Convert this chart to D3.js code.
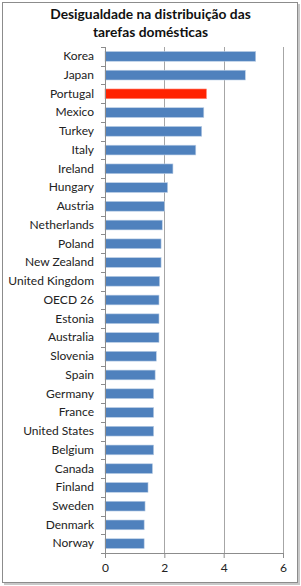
<!DOCTYPE html>
<html>
<head>
<meta charset="utf-8">
<script src="https://cdn.jsdelivr.net/npm/d3@7"></script>
<style>
  body { margin: 0; background: #fff; }
  text { font-family: Lato, "Open Sans", sans-serif; fill: #222; }
</style>
</head>
<body>
<div id="chart"></div>
<script>
// dados
var paises = ["Korea", "Japan", "Portugal", "Mexico", "Turkey", "Italy", "Ireland", "Hungary",
  "Austria", "Netherlands", "Poland", "New Zealand", "United Kingdom", "OECD 26", "Estonia",
  "Australia", "Slovenia", "Spain", "Germany", "France", "United States", "Belgium", "Canada",
  "Finland", "Sweden", "Denmark", "Norway"];
var valores = [5.08, 4.73, 3.42, 3.33, 3.26, 3.06, 2.29, 2.11, 2.0, 1.93, 1.89, 1.89, 1.84, 1.82,
  1.82, 1.82, 1.73, 1.69, 1.64, 1.64, 1.64, 1.64, 1.6, 1.45, 1.35, 1.32, 1.32];
var destaque = ["Portugal"];
var ticksX = [0, 2, 4, 6];
var titulo = ["Desigualdade na distribuição das", "tarefas domésticas"];

var W = 301, H = 586;
var margin = { left: 105, right: 18, top: 47, bottom: 33 };
var width = W - margin.left - margin.right,
    height = H - margin.top - margin.bottom;

var svg = d3.select("#chart").append("svg")
    .attr("width", W)
    .attr("height", H);

// moldura com sombra
svg.append("rect")
    .attr("x", 4).attr("y", 4).attr("width", W - 5).attr("height", H - 5)
    .attr("fill", "#c8c8c8");
svg.append("rect")
    .attr("x", 2.5).attr("y", 2.5).attr("width", W - 6).attr("height", H - 6)
    .attr("fill", "#fff").attr("stroke", "#8c8c8c").attr("stroke-width", 1);

svg.selectAll(".titulo").data(titulo).enter()
    .append("text")
    .attr("class", "titulo")
    .attr("x", W / 2)
    .attr("y", (d, i) => 19 + i * 18)
    .attr("text-anchor", "middle")
    .attr("font-size", "13.8px")
    .attr("font-weight", "bold")
    .style("fill", "#111")
    .text(d => d);

var dados = paises.map((p, i) => ({ pais: p, valor: valores[i] }));

var g = svg.append("g")
    .attr("transform", "translate(" + margin.left + "," + margin.top + ")");

var x = d3.scaleLinear().domain([0, 6]).range([0, width]);
var y = d3.scaleBand().domain(paises).range([0, height]).paddingInner(0.48).paddingOuter(0.24);

// grelha
g.selectAll(".grid").data(ticksX.slice(1)).enter()
    .append("line")
    .attr("x1", d => Math.round(x(d)) + 0.5).attr("x2", d => Math.round(x(d)) + 0.5)
    .attr("y1", 0).attr("y2", height)
    .attr("stroke", "#a6a6a6");

// barras
g.selectAll("rect.bar").data(dados).enter()
    .append("rect")
    .attr("class", "bar")
    .attr("x", x(0))
    .attr("y", d => y(d.pais))
    .attr("width", d => x(d.valor))
    .attr("height", y.bandwidth())
    .attr("fill", d => destaque.includes(d.pais) ? "#ff2200" : "#4f81bd")
    .attr("stroke", d => destaque.includes(d.pais) ? "#ff8a7a" : "#b9cde5")
    .attr("stroke-width", 0.6);

// eixo Y
var yAxis = d3.axisLeft(y).tickSize(0).tickPadding(11);
var gy = g.append("g").call(yAxis);
gy.select(".domain").remove();
gy.selectAll("text").attr("font-size", "12px").style("font-family", "Lato, 'Open Sans', sans-serif");

var step = height / paises.length;
g.selectAll(".ytick").data(d3.range(paises.length + 1)).enter()
    .append("line")
    .attr("x1", -4).attr("x2", 0)
    .attr("y1", d => Math.round(d * step) + 0.5).attr("y2", d => Math.round(d * step) + 0.5)
    .attr("stroke", "#8c8c8c");
g.append("line")
    .attr("x1", 0.5).attr("x2", 0.5).attr("y1", 0).attr("y2", height)
    .attr("stroke", "#8c8c8c");

// eixo X
var xAxis = d3.axisBottom(x).tickValues(ticksX).tickFormat(d3.format("d"))
    .tickSize(5).tickPadding(5).tickSizeOuter(0);
var gx = g.append("g")
    .attr("transform", "translate(0," + height + ")")
    .call(xAxis);
gx.select(".domain").attr("stroke", "#8c8c8c");
gx.selectAll(".tick line").attr("stroke", "#8c8c8c");
gx.selectAll("text").attr("font-size", "12px").style("font-family", "Lato, 'Open Sans', sans-serif");
</script>
</body>
</html>
